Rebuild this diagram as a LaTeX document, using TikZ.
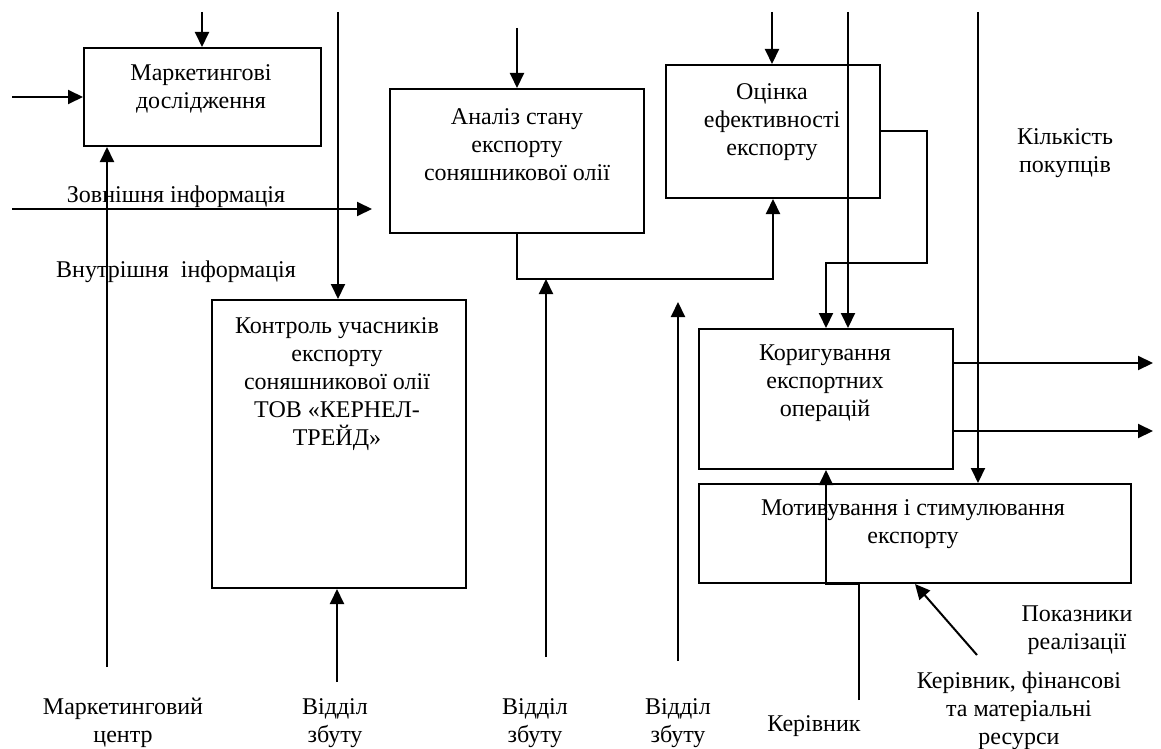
\documentclass[tikz,border=0pt]{standalone}
\usepackage{fontspec}
\setmainfont{Liberation Serif}
\usepackage{tikz}
\usetikzlibrary{calc}
\usetikzlibrary{arrows.meta}
\usetikzlibrary{positioning}

\begin{document}
\begin{tikzpicture}[x=0.5pt,y=-0.5pt,
  box/.style={draw, line width=1pt, anchor=north west, inner sep=0pt},
  lbl/.style={align=center, inner sep=0pt, font=\fontsize{12}{14}\selectfont},
  arr/.style={line width=1pt, -{Triangle[length=7.5pt,width=7pt]}},
  ln/.style={line width=1pt}]
% Page frame
\useasboundingbox (0,0) rectangle (1161,749);
% Boxes
\node[box, minimum width=118.5pt, minimum height=49pt] (mark) at (83,47) {};
\node[box, minimum width=127pt, minimum height=72pt] (anal) at (389,88) {};
\node[box, minimum width=127pt, minimum height=144pt] (kont) at (211,299) {};
\node[box, minimum width=107pt, minimum height=66.5pt] (ocin) at (665,64) {};
\node[box, minimum width=127pt, minimum height=70pt] (kory) at (698,328) {};
\node[box, minimum width=216pt, minimum height=49.5pt] (motv) at (698,483) {};
% Box texts
\node[lbl] (markT) at (201,89) {Маркетингові\\дослідження};
\node[lbl] (analT) at (517,145) {Аналіз стану\\експорту\\соняшникової олії};
\node[lbl] (ocinT) at (772,122) {Оцінка\\ефективності\\експорту};
\node[lbl] (kontT) at (337,384) {Контроль учасників\\експорту\\соняшникової олії\\ТОВ «КЕРНЕЛ-\\ТРЕЙД»};
\node[lbl] (koryT) at (825,383) {Коригування\\експортних\\операцій};
\node[lbl] (motvT) at (913,524) {Мотивування і стимулювання\\експорту};
% Outer labels
\node[lbl] (zovn) at (176,197) {Зовнішня інформація};
\node[lbl] (vnut) at (176,272) {Внутрішня\ \ інформація};
\node[lbl] (kilk) at (1065,153) {Кількість\\покупців};
\node[lbl] (pokaz) at (1077,630) {Показники\\реалізації};
\node[lbl] (kerres) at (1019,711) {Керівник, фінансові\\та матеріальні\\ресурси};
\node[lbl] (ker) at (814,726) {Керівник};
\node[lbl] (mc) at (123,723) {Маркетинговий\\центр};
\node[lbl] (vz1) at (335,723) {Відділ\\збуту};
\node[lbl] (vz2) at (535,723) {Відділ\\збуту};
\node[lbl] (vz3) at (678,723) {Відділ\\збуту};
% Free ends of arrows
\coordinate (mTop) at (202,12);
\coordinate (mIn) at (12,97);
\coordinate (mBot) at (107,667);
\coordinate (zIn) at (12,209);
\coordinate (zOut) at (372,209);
\coordinate (kTop) at (338,12);
\coordinate (kBot) at (337,682);
\coordinate (aTop) at (517,28);
\coordinate (aoY) at (0,279);
\coordinate (vBot2) at (546,657);
\coordinate (oTop) at (772,12);
\coordinate (kyTop) at (848,12);
\coordinate (loop) at (927,263);
\coordinate (kilTop) at (978,12);
\coordinate (out1) at (1153,363);
\coordinate (out2) at (1153,431);
\coordinate (vBot3) at (678,661);
\coordinate (vTop3) at (678,302);
\coordinate (kerB) at (859,700);
\coordinate (kerBend) at (859,584);
\coordinate (diag) at (977,655);
% Arrows
\draw[arr] (mTop) -- (mTop |- mark.north);
\draw[arr] (mIn) -- (mIn -| mark.west);
\draw[arr] (mBot) -- (mBot |- mark.south);
\draw[arr] (zIn) -- (zOut);
\draw[arr] (kTop) -- (kTop |- kont.north);
\draw[arr] (kBot) -- (kBot |- kont.south);
\draw[arr] (aTop) -- (aTop |- anal.north);
\draw[arr] (anal.south) -- (anal.south |- aoY) -| (ocin.south);
\draw[arr] (vBot2) -- (vBot2 |- aoY);
\draw[arr] (oTop) -- (oTop |- ocin.north);
\draw[arr] (kyTop) -- (kyTop |- kory.north);
\draw[arr] (ocin.east) -| (loop) -| (kory.north);
\draw[arr] (kilTop) -- (kilTop |- motv.north);
\draw[arr] (out1 -| kory.east) -- (out1);
\draw[arr] (out2 -| kory.east) -- (out2);
\draw[arr] (vBot3) -- (vTop3);
\draw[arr] (kerB) -- (kerBend) -| (kory.south);
\draw[arr] (diag) -- (motv.south);
\end{tikzpicture}
\end{document}
